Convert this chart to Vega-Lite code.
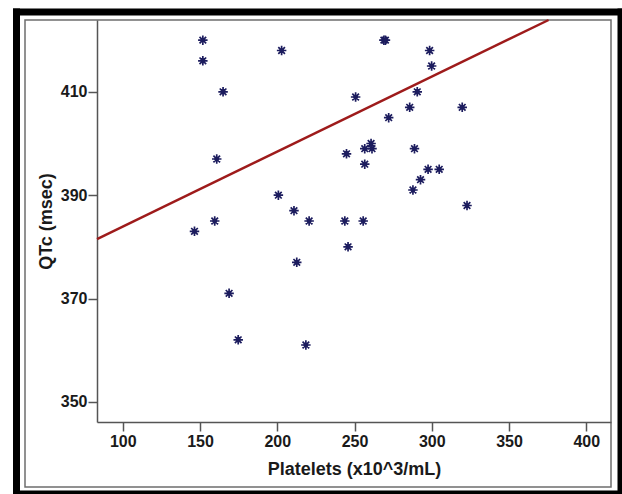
{
  "$schema": "https://vega.github.io/schema/vega-lite/v6.json",
  "width": 586,
  "height": 467,
  "autosize": {"type": "none"},
  "padding": {"left": 25, "top": 20, "right": 11, "bottom": 7},
  "background": "white",
  "config": {
    "view": {"stroke": "#6e6e6e", "strokeWidth": 1.5},
    "font": "Liberation Sans",
    "axis": {"labelFont": "Liberation Sans", "titleFont": "Liberation Sans"}
  },
  "datasets": {
    "pts": [
      {"platelets": 151.8, "qtc": 420},
      {"platelets": 151.8, "qtc": 416},
      {"platelets": 202.8, "qtc": 418},
      {"platelets": 269, "qtc": 420},
      {"platelets": 270, "qtc": 420},
      {"platelets": 298.6, "qtc": 418},
      {"platelets": 299.9, "qtc": 415},
      {"platelets": 164.9, "qtc": 410},
      {"platelets": 250.7, "qtc": 409},
      {"platelets": 290.6, "qtc": 410},
      {"platelets": 285.7, "qtc": 407},
      {"platelets": 319.7, "qtc": 407},
      {"platelets": 272.1, "qtc": 405},
      {"platelets": 260.7, "qtc": 400},
      {"platelets": 256.6, "qtc": 399},
      {"platelets": 261.3, "qtc": 399},
      {"platelets": 288.8, "qtc": 399},
      {"platelets": 244.8, "qtc": 398},
      {"platelets": 160.8, "qtc": 397},
      {"platelets": 256.6, "qtc": 396},
      {"platelets": 297.6, "qtc": 395},
      {"platelets": 304.8, "qtc": 395},
      {"platelets": 292.7, "qtc": 393},
      {"platelets": 287.8, "qtc": 391},
      {"platelets": 200.7, "qtc": 390},
      {"platelets": 322.8, "qtc": 388},
      {"platelets": 210.8, "qtc": 387},
      {"platelets": 159.5, "qtc": 385},
      {"platelets": 220.6, "qtc": 385},
      {"platelets": 243.7, "qtc": 385},
      {"platelets": 255.6, "qtc": 385},
      {"platelets": 146.4, "qtc": 383},
      {"platelets": 245.8, "qtc": 380},
      {"platelets": 212.6, "qtc": 377},
      {"platelets": 168.8, "qtc": 371},
      {"platelets": 174.7, "qtc": 362},
      {"platelets": 218.5, "qtc": 361}
    ],
    "fit": [
      {"platelets": 83.3, "qtc": 381.5},
      {"platelets": 375.6, "qtc": 423.9}
    ]
  },
  "layer": [
    {
      "data": {"name": "pts"},
      "mark": {
        "type": "point",
        "shape": "M-1,0L1,0M0,-1L0,1M-0.7,-0.7L0.7,0.7M-0.7,0.7L0.7,-0.7M0.35,0A0.35,0.35 0 1,1 -0.35,0A0.35,0.35 0 1,1 0.35,0Z",
        "filled": false,
        "size": 90,
        "strokeWidth": 1.7,
        "color": "#1c1c5e",
        "opacity": 1
      },
      "encoding": {
        "x": {
          "field": "platelets",
          "type": "quantitative",
          "scale": {"domain": [83.3, 416], "range": [72, 586], "nice": false, "zero": false},
          "axis": {
            "orient": "bottom",
            "offset": -65,
            "values": [100, 150, 200, 250, 300, 350, 400],
            "grid": false,
            "domainColor": "#555555",
            "domainWidth": 1.5,
            "tickColor": "#555555",
            "tickWidth": 1.5,
            "tickSize": 9,
            "labelPadding": 2,
            "labelFontSize": 16,
            "labelFontWeight": "bold",
            "labelColor": "#1a1a1a",
            "title": "Platelets (x10^3/mL)",
            "titleFontSize": 18,
            "titleFontWeight": "bold",
            "titleColor": "#1a1a1a",
            "titlePadding": 11
          }
        },
        "y": {
          "field": "qtc",
          "type": "quantitative",
          "scale": {"domain": [346.1, 423.9], "range": [402, 0], "nice": false, "zero": false},
          "axis": {
            "orient": "left",
            "offset": -72,
            "values": [350, 370, 390, 410],
            "grid": false,
            "domainColor": "#555555",
            "domainWidth": 1.5,
            "tickColor": "#555555",
            "tickWidth": 1.5,
            "tickSize": 9,
            "labelPadding": 1,
            "labelFontSize": 16,
            "labelFontWeight": "bold",
            "labelColor": "#1a1a1a",
            "title": "QTc (msec)",
            "titleFontSize": 18,
            "titleFontWeight": "bold",
            "titleColor": "#1a1a1a",
            "titlePadding": 5
          }
        }
      }
    },
    {
      "data": {"name": "fit"},
      "mark": {"type": "line", "color": "#9e1b1b", "strokeWidth": 2.5},
      "encoding": {
        "x": {
          "field": "platelets",
          "type": "quantitative",
          "scale": {"domain": [83.3, 416], "range": [72, 586], "nice": false, "zero": false},
          "axis": null
        },
        "y": {
          "field": "qtc",
          "type": "quantitative",
          "scale": {"domain": [346.1, 423.9], "range": [402, 0], "nice": false, "zero": false},
          "axis": null
        }
      }
    },
    {
      "data": {"name": "pts"},
      "mark": {"type": "point", "opacity": 0},
      "encoding": {
        "x": {
          "field": "platelets",
          "type": "quantitative",
          "scale": {"domain": [83.3, 416], "range": [-12.5, 599], "nice": false, "zero": false},
          "axis": {"orient": "top", "offset": 8.5, "domain": true, "domainColor": "#000000", "domainWidth": 7, "ticks": false, "labels": false, "grid": false, "title": null}
        },
        "y": {
          "field": "qtc",
          "type": "quantitative",
          "scale": {"domain": [346.1, 423.9], "range": [477, -12], "nice": false, "zero": false},
          "axis": {"orient": "left", "offset": 9, "domain": true, "domainColor": "#000000", "domainWidth": 7, "ticks": false, "labels": false, "grid": false, "title": null}
        }
      }
    },
    {
      "data": {"name": "pts"},
      "mark": {"type": "point", "opacity": 0},
      "encoding": {
        "x": {
          "field": "platelets",
          "type": "quantitative",
          "scale": {"domain": [83.3, 416], "range": [-12.5, 599], "nice": false, "zero": false},
          "axis": {"orient": "bottom", "offset": 6.5, "domain": true, "domainColor": "#000000", "domainWidth": 7, "ticks": false, "labels": false, "grid": false, "title": null}
        },
        "y": {
          "field": "qtc",
          "type": "quantitative",
          "scale": {"domain": [346.1, 423.9], "range": [477, -12], "nice": false, "zero": false},
          "axis": {"orient": "right", "offset": 9.5, "domain": true, "domainColor": "#000000", "domainWidth": 7, "ticks": false, "labels": false, "grid": false, "title": null}
        }
      }
    }
  ],
  "resolve": {
    "scale": {"x": "independent", "y": "independent"},
    "axis": {"x": "independent", "y": "independent"}
  }
}
